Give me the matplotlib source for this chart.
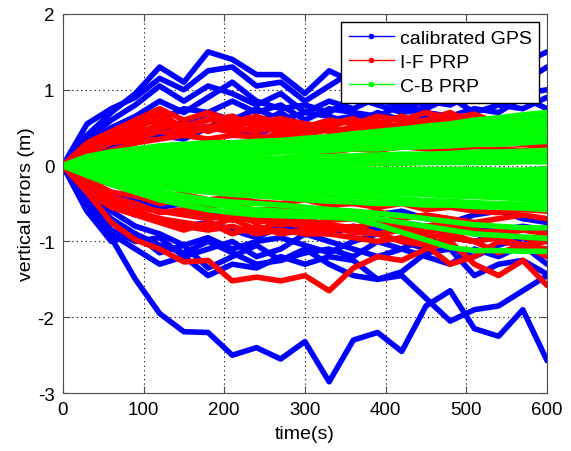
import numpy as np
import matplotlib
matplotlib.use('Agg')
import matplotlib.pyplot as plt
from matplotlib.lines import Line2D

plt.rcParams['font.family'] = ['Liberation Sans', 'DejaVu Sans']
plt.rcParams['axes.unicode_minus'] = False

# sample times (s)
t = list(range(0, 601, 30))

# calibrated GPS vertical errors (m)
gps = [
    [0, 0.4, 0.7, 0.95, 1.3, 1.1, 1.5, 1.4, 1.2, 1.2, 0.95, 1.25, 1.1, 0.9, 0.95, 1.15, 1.25, 1.3, 1.15, 1.35, 1.5],
    [0, 0.55, 0.75, 0.9, 1.15, 1.0, 1.25, 1.3, 1.05, 1.1, 0.85, 1.05, 1.25, 1.05, 0.85, 0.8, 0.95, 1.05, 0.9, 1.1, 1.3],
    [0, 0.35, 0.6, 0.8, 1.05, 0.85, 1.05, 0.95, 0.8, 0.95, 0.7, 0.85, 0.75, 0.9, 0.75, 0.85, 0.8, 0.95, 0.85, 0.95, 1.0],
    [0, 0.3, 0.5, 0.65, 0.85, 0.7, 0.9, 1.1, 0.85, 0.75, 0.8, 0.7, 0.9, 0.8, 0.7, 0.75, 0.9, 0.7, 0.8, 0.75, 0.9],
    [0, 0.2, 0.4, 0.55, 0.6, 0.75, 0.7, 0.85, 0.7, 0.8, 0.6, 0.75, 0.7, 0.65, 0.8, 0.7, 0.65, 0.75, 0.7, 0.9, 0.75],
    [0, 0.15, 0.35, 0.45, 0.5, 0.55, 0.7, 0.6, 0.75, 0.6, 0.7, 0.65, 0.55, 0.7, 0.6, 0.7, 0.6, 0.65, 0.55, 0.6, 0.65],
    [0, 0.25, 0.3, 0.5, 0.4, 0.6, 0.5, 0.65, 0.55, 0.7, 0.5, 0.6, 0.65, 0.55, 0.5, 0.65, 0.55, 0.6, 0.5, 0.55, 0.6],
    [0, 0.1, 0.25, 0.3, 0.4, 0.35, 0.5, 0.45, 0.4, 0.55, 0.45, 0.5, 0.4, 0.5, 0.45, 0.55, 0.5, 0.45, 0.55, 0.5, 0.45],
    [0, -0.2, -0.35, -0.45, -0.55, -0.5, -0.6, -0.7, -0.6, -0.65, -0.75, -0.6, -0.7, -0.65, -0.6, -0.7, -0.75, -0.65, -0.6, -0.7, -0.75],
    [0, -0.25, -0.5, -0.65, -0.7, -0.8, -0.75, -0.85, -0.95, -0.8, -0.85, -0.9, -0.8, -0.85, -0.75, -0.8, -0.9, -0.8, -0.85, -0.8, -0.85],
    [0, -0.35, -0.6, -0.8, -0.9, -1.05, -0.95, -1.1, -1.0, -0.95, -1.05, -1.15, -1.0, -0.9, -1.0, -1.1, -0.95, -1.0, -0.9, -1.05, -0.95],
    [0, -0.45, -0.85, -1.0, -0.95, -1.2, -1.1, -1.0, -1.2, -1.1, -0.9, -1.0, -1.1, -1.2, -1.1, -0.95, -1.1, -1.2, -1.05, -0.95, -1.15],
    [0, -0.6, -1.0, -0.9, -1.15, -1.05, -1.35, -1.2, -1.05, -1.25, -1.15, -1.1, -1.2, -1.0, -1.1, -1.2, -1.3, -1.1, -1.2, -1.05, -1.3],
    [0, -0.5, -0.9, -1.1, -1.3, -1.2, -1.45, -1.3, -1.35, -1.2, -1.3, -1.2, -1.25, -1.5, -1.4, -1.15, -1.1, -1.45, -1.3, -1.25, -1.43],
    [0, -0.4, -0.7, -0.9, -1.05, -1.15, -1.0, -1.15, -1.3, -1.25, -1.1, -1.3, -1.45, -1.5, -1.45, -1.75, -2.05, -1.9, -1.85, -1.65, -1.45],
    [0, -0.6, -0.95, -1.5, -1.95, -2.19, -2.2, -2.5, -2.4, -2.55, -2.32, -2.85, -2.3, -2.2, -2.45, -1.85, -1.65, -2.15, -2.25, -1.9, -2.57],
]

# I-F PRP vertical errors (m)
if_prp = [
    [0, 0.3, 0.45, 0.6, 0.75, 0.6, 0.7, 0.58, 0.65, 0.55, 0.5, 0.6, 0.55, 0.65, 0.6, 0.7, 0.62, 0.68, 0.55, 0.5, 0.52],
    [0, 0.22, 0.38, 0.55, 0.68, 0.5, 0.62, 0.52, 0.58, 0.62, 0.55, 0.52, 0.6, 0.55, 0.65, 0.55, 0.6, 0.62, 0.5, 0.45, 0.48],
    [0, 0.25, 0.4, 0.5, 0.62, 0.52, 0.6, 0.65, 0.5, 0.6, 0.45, 0.55, 0.62, 0.5, 0.55, 0.6, 0.7, 0.55, 0.6, 0.45, 0.4],
    [0, 0.18, 0.3, 0.4, 0.55, 0.45, 0.52, 0.5, 0.45, 0.52, 0.45, 0.5, 0.45, 0.52, 0.45, 0.55, 0.5, 0.45, 0.5, 0.4, 0.42],
    [0, 0.2, 0.35, 0.45, 0.5, 0.55, 0.45, 0.55, 0.6, 0.48, 0.52, 0.45, 0.5, 0.58, 0.5, 0.45, 0.55, 0.5, 0.45, 0.5, 0.35],
    [0, 0.15, 0.3, 0.35, 0.45, 0.4, 0.5, 0.45, 0.5, 0.45, 0.4, 0.48, 0.4, 0.45, 0.42, 0.5, 0.45, 0.4, 0.42, 0.35, 0.3],
    [0, 0.1, 0.2, 0.3, 0.35, 0.4, 0.35, 0.4, 0.38, 0.4, 0.35, 0.38, 0.35, 0.4, 0.3, 0.35, 0.3, 0.35, 0.3, 0.28, 0.25],
    [0, 0.05, 0.1, 0.12, 0.15, 0.18, 0.15, 0.2, 0.18, 0.22, 0.2, 0.18, 0.22, 0.2, 0.25, 0.22, 0.2, 0.25, 0.22, 0.2, 0.22],
    [0, -0.05, -0.1, -0.12, -0.1, -0.15, -0.2, -0.18, -0.15, -0.2, -0.25, -0.2, -0.22, -0.3, -0.25, -0.28, -0.35, -0.3, -0.35, -0.38, -0.4],
    [0, -0.15, -0.25, -0.32, -0.4, -0.38, -0.45, -0.42, -0.48, -0.5, -0.45, -0.52, -0.5, -0.55, -0.5, -0.58, -0.55, -0.6, -0.62, -0.58, -0.6],
    [0, -0.2, -0.35, -0.4, -0.5, -0.45, -0.55, -0.5, -0.6, -0.55, -0.6, -0.55, -0.65, -0.6, -0.7, -0.65, -0.7, -0.75, -0.7, -0.65, -0.7],
    [0, -0.25, -0.45, -0.55, -0.6, -0.65, -0.7, -0.65, -0.75, -0.7, -0.8, -0.72, -0.7, -0.78, -0.85, -0.8, -0.75, -0.85, -0.9, -0.85, -0.9],
    [0, -0.28, -0.42, -0.5, -0.62, -0.58, -0.65, -0.72, -0.68, -0.78, -0.72, -0.78, -0.82, -0.75, -0.8, -0.88, -0.82, -0.9, -0.85, -0.95, -1.0],
    [0, -0.3, -0.5, -0.6, -0.7, -0.75, -0.8, -0.7, -0.85, -0.75, -0.8, -0.85, -0.8, -0.9, -0.85, -0.95, -0.9, -1.0, -0.95, -1.05, -1.0],
    [0, -0.35, -0.55, -0.65, -0.75, -0.85, -0.75, -0.9, -0.8, -0.9, -0.85, -0.8, -0.88, -0.9, -1.0, -1.05, -0.95, -1.0, -1.15, -1.05, -1.1],
    [0, -0.3, -0.5, -0.65, -0.7, -0.8, -0.85, -0.8, -0.9, -0.85, -0.9, -0.9, -0.95, -1.0, -0.95, -1.05, -1.3, -1.2, -1.0, -1.05, -1.2],
    [0, -0.35, -0.75, -0.98, -1.1, -1.27, -1.25, -1.52, -1.47, -1.52, -1.45, -1.65, -1.35, -1.2, -1.25, -1.1, -1.0, -1.3, -1.45, -1.25, -1.58],
]

# C-B PRP vertical errors (m)
cb_prp = [
    [0, 0.12, 0.18, 0.22, 0.26, 0.28, 0.3, 0.3, 0.32, 0.33, 0.36, 0.38, 0.42, 0.45, 0.48, 0.52, 0.55, 0.6, 0.63, 0.67, 0.7],
    [0, 0.11, 0.16, 0.21, 0.24, 0.26, 0.28, 0.29, 0.31, 0.32, 0.34, 0.36, 0.39, 0.42, 0.45, 0.48, 0.51, 0.55, 0.57, 0.6, 0.63],
    [0, 0.1, 0.15, 0.2, 0.22, 0.25, 0.27, 0.28, 0.3, 0.31, 0.33, 0.35, 0.37, 0.4, 0.42, 0.45, 0.48, 0.5, 0.52, 0.55, 0.58],
    [0, 0.09, 0.14, 0.18, 0.2, 0.23, 0.25, 0.25, 0.27, 0.28, 0.3, 0.32, 0.34, 0.36, 0.38, 0.4, 0.42, 0.44, 0.46, 0.48, 0.52],
    [0, 0.08, 0.12, 0.15, 0.18, 0.2, 0.22, 0.22, 0.24, 0.25, 0.26, 0.28, 0.3, 0.32, 0.33, 0.35, 0.36, 0.38, 0.4, 0.42, 0.45],
    [0, 0.06, 0.1, 0.12, 0.15, 0.17, 0.18, 0.19, 0.2, 0.22, 0.23, 0.24, 0.26, 0.27, 0.29, 0.3, 0.31, 0.33, 0.34, 0.36, 0.38],
    [0, 0.05, 0.08, 0.1, 0.12, 0.13, 0.15, 0.15, 0.16, 0.18, 0.18, 0.2, 0.22, 0.22, 0.24, 0.25, 0.26, 0.28, 0.28, 0.3, 0.32],
    [0, 0.03, 0.05, 0.05, 0.07, 0.08, 0.08, 0.1, 0.1, 0.1, 0.12, 0.12, 0.13, 0.14, 0.15, 0.15, 0.16, 0.18, 0.18, 0.19, 0.2],
    [0, 0.01, 0.03, 0.04, 0.05, 0.05, 0.06, 0.07, 0.07, 0.08, 0.09, 0.09, 0.1, 0.11, 0.11, 0.12, 0.13, 0.13, 0.14, 0.15, 0.15],
    [0, 0.0, 0.02, 0.02, 0.03, 0.03, 0.04, 0.04, 0.05, 0.05, 0.05, 0.06, 0.06, 0.07, 0.07, 0.08, 0.08, 0.08, 0.09, 0.1, 0.1],
    [0, 0.0, 0.01, 0.01, 0.01, 0.01, 0.02, 0.02, 0.02, 0.02, 0.02, 0.03, 0.03, 0.03, 0.03, 0.04, 0.04, 0.04, 0.04, 0.05, 0.05],
    [0, -0.01, -0.01, -0.02, -0.02, -0.02, -0.03, -0.03, -0.03, -0.03, -0.04, -0.04, -0.04, -0.05, -0.05, -0.05, -0.05, -0.05, -0.06, -0.06, -0.04],
    [0, -0.01, -0.02, -0.03, -0.03, -0.04, -0.04, -0.05, -0.05, -0.05, -0.06, -0.06, -0.06, -0.07, -0.07, -0.07, -0.08, -0.08, -0.08, -0.09, -0.09],
    [0, -0.02, -0.03, -0.04, -0.05, -0.05, -0.06, -0.07, -0.07, -0.08, -0.08, -0.09, -0.1, -0.1, -0.1, -0.11, -0.12, -0.12, -0.13, -0.13, -0.14],
    [0, -0.03, -0.05, -0.07, -0.08, -0.09, -0.1, -0.11, -0.12, -0.12, -0.13, -0.14, -0.15, -0.15, -0.16, -0.17, -0.17, -0.18, -0.19, -0.2, -0.2],
    [0, -0.04, -0.06, -0.08, -0.1, -0.11, -0.12, -0.13, -0.14, -0.15, -0.16, -0.17, -0.18, -0.19, -0.2, -0.21, -0.22, -0.23, -0.24, -0.25, -0.25],
    [0, -0.04, -0.07, -0.1, -0.12, -0.13, -0.15, -0.16, -0.17, -0.18, -0.2, -0.21, -0.22, -0.23, -0.24, -0.25, -0.26, -0.27, -0.28, -0.3, -0.3],
    [0, -0.05, -0.08, -0.11, -0.14, -0.16, -0.17, -0.19, -0.2, -0.21, -0.23, -0.24, -0.25, -0.26, -0.27, -0.28, -0.29, -0.3, -0.32, -0.33, -0.34],
    [0, -0.05, -0.1, -0.13, -0.16, -0.18, -0.2, -0.22, -0.23, -0.24, -0.26, -0.27, -0.28, -0.3, -0.31, -0.32, -0.33, -0.34, -0.36, -0.37, -0.38],
    [0, -0.06, -0.11, -0.15, -0.18, -0.2, -0.22, -0.24, -0.25, -0.27, -0.29, -0.3, -0.31, -0.33, -0.34, -0.35, -0.37, -0.38, -0.39, -0.41, -0.42],
    [0, -0.07, -0.12, -0.16, -0.2, -0.22, -0.25, -0.27, -0.28, -0.3, -0.32, -0.33, -0.35, -0.36, -0.37, -0.38, -0.4, -0.41, -0.42, -0.44, -0.45],
    [0, -0.08, -0.15, -0.2, -0.24, -0.27, -0.3, -0.32, -0.34, -0.36, -0.38, -0.4, -0.41, -0.43, -0.44, -0.46, -0.47, -0.49, -0.5, -0.51, -0.52],
    [0, -0.1, -0.18, -0.24, -0.28, -0.32, -0.35, -0.38, -0.4, -0.42, -0.45, -0.47, -0.48, -0.5, -0.5, -0.52, -0.52, -0.54, -0.55, -0.56, -0.58],
    [0, -0.1, -0.2, -0.28, -0.35, -0.4, -0.45, -0.48, -0.5, -0.52, -0.55, -0.58, -0.6, -0.63, -0.66, -0.7, -0.74, -0.78, -0.8, -0.82, -0.82],
    [0, -0.12, -0.22, -0.3, -0.38, -0.45, -0.5, -0.55, -0.58, -0.6, -0.62, -0.63, -0.65, -0.7, -0.75, -0.8, -0.85, -0.9, -0.92, -0.94, -0.96],
    [0, -0.13, -0.25, -0.35, -0.45, -0.52, -0.58, -0.62, -0.65, -0.66, -0.67, -0.68, -0.7, -0.78, -0.88, -0.98, -1.08, -1.12, -1.12, -1.13, -1.13],
]

labels = ['calibrated GPS', 'I-F PRP', 'C-B PRP']
colors = ['#0000ff', '#ff0000', '#00ff00']

fig = plt.figure(figsize=(5.71, 4.52), dpi=100)
ax = fig.add_axes([0.110, 0.128, 0.848, 0.839])

for series, c in zip([gps, if_prp, cb_prp], colors):
    ax.plot(t, np.array(series).T, color=c, lw=4.0,
            solid_joinstyle='round', solid_capstyle='round')

ax.set_xlim(0, 600)
ax.set_ylim(-3, 2)
ax.set_xticks(range(0, 601, 100))
ax.set_yticks(range(-3, 3))
ax.grid(True, color='k', linestyle=(0, (1, 3)), lw=0.8)
ax.set_axisbelow(True)
ax.tick_params(direction='in', length=5, labelsize=13.5, top=True, right=True,
               color='0.3', pad=6)
for sp in ax.spines.values():
    sp.set_color('0.3')
ax.set_xlabel('time(s)', fontsize=14, labelpad=5)
ax.set_ylabel('vertical errors (m)', fontsize=14, labelpad=2)

handles = [Line2D([], [], color=c, lw=1, marker='.', ms=6) for c in colors]
leg = ax.legend(handles, labels, loc='upper right', fontsize=14,
                fancybox=False, framealpha=1, edgecolor='k',
                handlelength=2.3, borderaxespad=0.4, labelspacing=0.32,
                handletextpad=0.3, borderpad=0.4)
leg.get_frame().set_linewidth(1)

fig.savefig('out.png', dpi=100)
